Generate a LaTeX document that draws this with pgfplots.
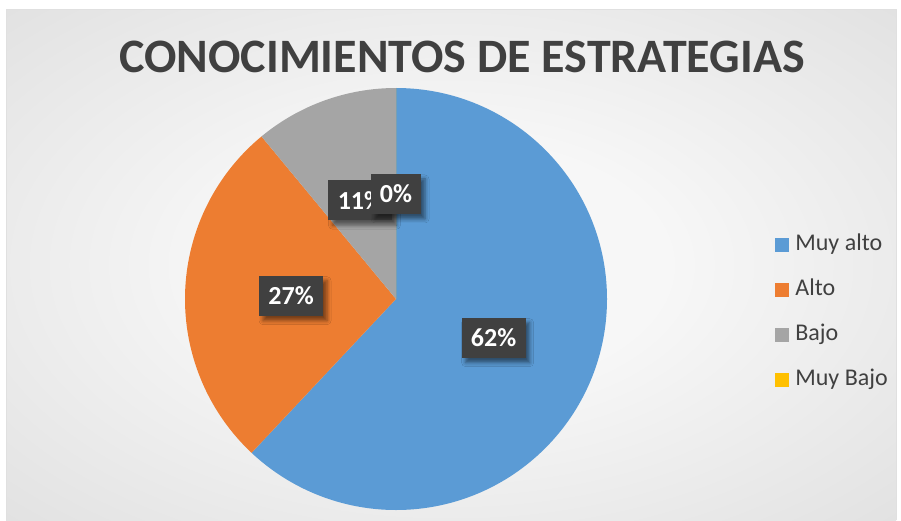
\documentclass[border=0pt]{standalone}
\usepackage{pgfplots}
\pgfplotsset{compat=1.18}
\usepackage{pgfplotstable}
\usepackage{fontspec}
\setmainfont{Carlito}
\usetikzlibrary{shadows.blur}
\definecolor{cblue}{HTML}{5B9BD5}
\definecolor{corange}{HTML}{ED7D31}
\definecolor{cgray}{HTML}{A5A5A5}
\definecolor{cyellow}{HTML}{FFC000}
\definecolor{ctext}{HTML}{404040}
\definecolor{cbox}{HTML}{404040}
\definecolor{bgin}{HTML}{F7F7F7}
\definecolor{bgout}{HTML}{C2C2C2}
\pgfdeclareradialshading{bgshade}{\pgfpoint{0bp}{0bp}}{color(0bp)=(bgin); color(12bp)=(bgin); color(71bp)=(bgout)}
\tikzset{lab/.style={fill=cbox, text=white, font=\fontsize{26}{30}\selectfont\bfseries,
    minimum width=64pt, minimum height=40pt, inner sep=0pt,
    blur shadow={shadow xshift=4pt, shadow yshift=-5pt, shadow blur radius=4pt, shadow opacity=50}}}

\pgfplotstableread{
label value
MuyAlto 62
Alto 27
Bajo 11
MuyBajo 0
}\piedata

\begin{document}
\begin{tikzpicture}
\pgfplotstablegetelem{0}{value}\of\piedata \pgfmathtruncatemacro{\vA}{\pgfplotsretval}
\pgfplotstablegetelem{1}{value}\of\piedata \pgfmathtruncatemacro{\vB}{\pgfplotsretval}
\pgfplotstablegetelem{2}{value}\of\piedata \pgfmathtruncatemacro{\vC}{\pgfplotsretval}
\pgfplotstablegetelem{3}{value}\of\piedata \pgfmathtruncatemacro{\vD}{\pgfplotsretval}
\pgfmathsetmacro{\tot}{\vA+\vB+\vC+\vD}
\pgfmathsetmacro{\aA}{90}
\pgfmathsetmacro{\aB}{90-(360/\tot)*\vA}
\pgfmathsetmacro{\aC}{90-(360/\tot)*(\vA+\vB)}
\pgfmathsetmacro{\aD}{90-(360/\tot)*(\vA+\vB+\vC)}
\pgfmathsetmacro{\aE}{90-360}
\pgfmathsetmacro{\mA}{(\aA+\aB)/2}
\pgfmathsetmacro{\mB}{(\aB+\aC)/2}
\pgfmathsetmacro{\mC}{(\aC+\aD)/2}
% background
\fill[white] (0pt,0pt) rectangle (901pt,520pt);
\shade[shading=bgshade] (6pt,0pt) rectangle (896pt,510pt);
\draw[black!12, line width=1pt] (6pt,0pt) -- (6pt,510pt) -- (896pt,510pt) -- (896pt,0pt);
% title
\node[font=\fontsize{48}{56}\selectfont\bfseries, text=ctext] at (462pt,463pt) {CONOCIMIENTOS DE ESTRATEGIAS};
\begin{axis}[
  at={(396pt,221pt)}, anchor=center,
  width=422pt, height=422pt, scale only axis,
  xmin=-1, xmax=1, ymin=-1, ymax=1,
  hide axis, clip=false,
  legend cell align=left,
  legend style={draw=none, fill=none, inner sep=0pt, outer sep=0pt,
    at={(axis description cs:1.398,0.654)}, anchor=north west,
    font=\fontsize{24}{28}\selectfont, text=ctext, row sep=24pt,
    nodes={text height=16pt, text depth=5pt, inner ysep=0pt, inner xsep=4pt},
    /tikz/every odd column/.append style={column sep=3pt}},
]
\fill[cblue] (axis cs:0,0) -- ++(\aA:211pt) arc[start angle=\aA, end angle=\aB, radius=211pt] -- cycle;
\fill[corange] (axis cs:0,0) -- ++(\aB:211pt) arc[start angle=\aB, end angle=\aC, radius=211pt] -- cycle;
\fill[cgray] (axis cs:0,0) -- ++(\aC:211pt) arc[start angle=\aC, end angle=\aD, radius=211pt] -- cycle;
\fill[cyellow] (axis cs:0,0) -- ++(\aD:211pt) arc[start angle=\aD, end angle=\aE, radius=211pt] -- cycle;
\path (axis cs:0,0) ++(\mA:105pt) node[lab] {\vA\%};
\path (axis cs:0,0) ++(\mB:105pt) node[lab] {\vB\%};
\path (axis cs:0,0) ++(\mC:105pt) node[lab] {\vC\%};
\path (axis cs:0,0) ++(90:105pt) node[lab, minimum width=50pt] {\vD\%};
\addlegendimage{legend image code/.code={\fill[cblue] (0pt,-6.5pt) rectangle (13pt,6.5pt);}}
\addlegendentry{Muy alto}
\addlegendimage{legend image code/.code={\fill[corange] (0pt,-6.5pt) rectangle (13pt,6.5pt);}}
\addlegendentry{Alto}
\addlegendimage{legend image code/.code={\fill[cgray] (0pt,-6.5pt) rectangle (13pt,6.5pt);}}
\addlegendentry{Bajo}
\addlegendimage{legend image code/.code={\fill[cyellow] (0pt,-6.5pt) rectangle (13pt,6.5pt);}}
\addlegendentry{Muy Bajo}
\end{axis}
\end{tikzpicture}
\end{document}
